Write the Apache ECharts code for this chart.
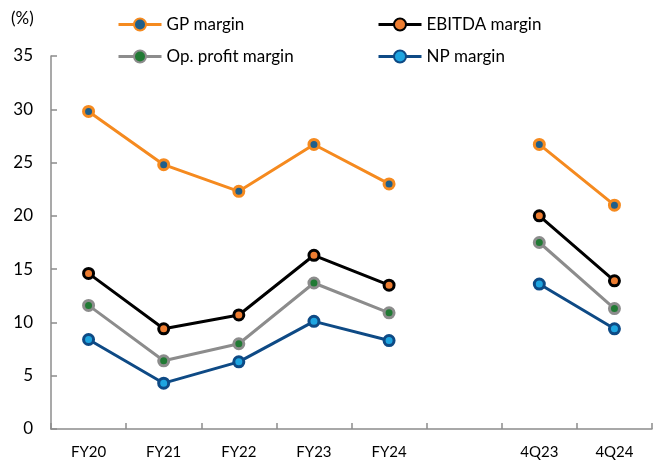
<!DOCTYPE html>
<html>
<head>
<meta charset="utf-8">
<script src="https://cdn.jsdelivr.net/npm/echarts@6/dist/echarts.min.js"></script>
<style>
html,body{margin:0;padding:0;background:#fff;}
#chart{width:653px;height:465px;}
</style>
</head>
<body>
<div id="chart"></div>
<script>
var categories = ['FY20', 'FY21', 'FY22', 'FY23', 'FY24', '', '4Q23', '4Q24'];
var gpMargin = [29.8, 24.8, 22.3, 26.7, 23.0, null, 26.7, 21.0];
var ebitdaMargin = [14.6, 9.4, 10.7, 16.3, 13.5, null, 20.0, 13.9];
var opMargin = [11.6, 6.4, 8.0, 13.7, 10.9, null, 17.5, 11.3];
var npMargin = [8.4, 4.3, 6.3, 10.1, 8.3, null, 13.6, 9.4];
var yTicks = [0, 5, 10, 15, 20, 25, 30, 35];

var FONT = 'Lato, "Open Sans", sans-serif';

function mk(name, data, lineColor, fillColor) {
  return {
    name: name,
    type: 'line',
    data: data,
    connectNulls: false,
    symbol: 'circle',
    symbolSize: 10,
    lineStyle: { color: lineColor, width: 3 },
    itemStyle: { color: fillColor, borderColor: lineColor, borderWidth: 3 },
    emphasis: { disabled: true },
    animation: false
  };
}

var series = [
  mk('GP margin', gpMargin, '#f58a1f', '#1f5f8b'),
  mk('EBITDA margin', ebitdaMargin, '#000000', '#ed7d31'),
  mk('Op. profit margin', opMargin, '#8c8c8c', '#217a34'),
  mk('NP margin', npMargin, '#0e4a85', '#1ea5e0')
];

function lg(name, left, top) {
  return {
    data: [name],
    left: left,
    top: top,
    itemWidth: 43,
    itemHeight: 15,
    itemGap: 4,
    lineStyle: { width: 3 },
    textStyle: { fontFamily: FONT, fontSize: 17, color: '#000' },
    selectedMode: false
  };
}

var chart = echarts.init(document.getElementById('chart'), null, { renderer: 'canvas' });
chart.setOption({
  animation: false,
  backgroundColor: '#fff',
  graphic: [{
    type: 'text', left: 11, top: 10,
    style: { text: '(%)', font: '17px ' + FONT, fill: '#000' }
  }],
  legend: [
    lg('GP margin', 112, 11),
    lg('EBITDA margin', 372, 11),
    lg('Op. profit margin', 112, 43),
    lg('NP margin', 372, 43)
  ],
  grid: { left: 51, right: 1, top: 56, bottom: 36, containLabel: false },
  xAxis: {
    type: 'category',
    data: categories,
    boundaryGap: true,
    axisLine: { lineStyle: { color: '#8c8c8c', width: 1.5 } },
    axisTick: { show: true, inside: true, length: 6, alignWithLabel: false, lineStyle: { color: '#8c8c8c', width: 1.5 } },
    axisLabel: { fontFamily: FONT, fontSize: 15, color: '#000', margin: 16, interval: 0 },
    splitLine: { show: false }
  },
  yAxis: {
    type: 'value',
    min: yTicks[0],
    max: yTicks[yTicks.length - 1],
    interval: 5,
    axisLine: { show: true, lineStyle: { color: '#8c8c8c', width: 1.5 } },
    axisTick: { show: true, inside: true, length: 6, lineStyle: { color: '#8c8c8c', width: 1.5 } },
    axisLabel: { fontFamily: FONT, fontSize: 17, color: '#000', margin: 18 },
    splitLine: { show: false }
  },
  series: series
});
</script>
</body>
</html>
